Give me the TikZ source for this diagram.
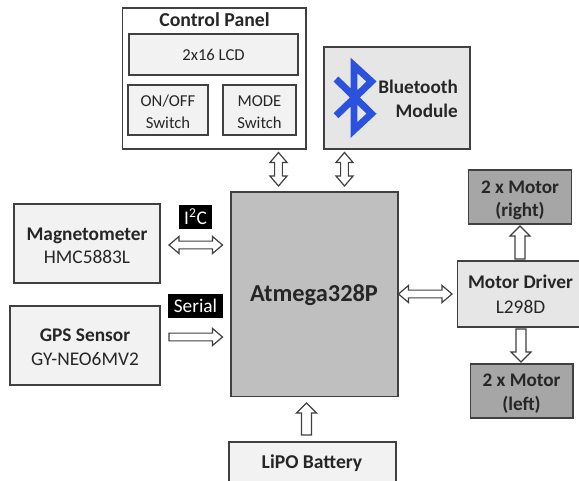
\documentclass[tikz,border=0pt]{standalone}
\usepackage{fontspec}
\setmainfont{Carlito}
\usetikzlibrary{calc}
\definecolor{edge}{HTML}{404040}
\definecolor{txt}{HTML}{262626}
\definecolor{light}{HTML}{F2F2F2}
\definecolor{mid}{HTML}{E6E6E6}
\definecolor{chip}{HTML}{BFBFBF}
\definecolor{motor}{HTML}{A6A6A6}
\definecolor{btblue}{HTML}{2A52DC}
\newcommand{\dropline}[1]{\rule{0pt}{#1}}
\tikzset{
  block/.style={draw=edge,line width=1pt,fill=light,text=txt,align=center,inner sep=0pt,font=\fontsize{14.5pt}{17.5pt}\selectfont},
  small/.style={font=\fontsize{12.5pt}{16.5pt}\selectfont},
  tag/.style={fill=black,text=white,inner sep=0pt,font=\fontsize{14.5pt}{16pt}\selectfont},
  head/.style={font=\fontsize{14.4pt}{17.5pt}\selectfont\bfseries},
  oneway/.style 2 args={draw=edge,fill=white,line width=.9pt,miter limit=10,to path={
    ($(\tikztostart)!#1!90:(\tikztotarget)$)
    -- ($(\tikztotarget)!7.5pt!(\tikztostart)!#1!90:(\tikztotarget)$)
    -- ($(\tikztotarget)!7.5pt!(\tikztostart)!#2!90:(\tikztotarget)$)
    -- (\tikztotarget)
    -- ($(\tikztotarget)!7.5pt!(\tikztostart)!#2!-90:(\tikztotarget)$)
    -- ($(\tikztotarget)!7.5pt!(\tikztostart)!#1!-90:(\tikztotarget)$)
    -- ($(\tikztostart)!#1!-90:(\tikztotarget)$) -- cycle}},
  twoway/.style 2 args={draw=edge,fill=white,line width=.9pt,miter limit=10,to path={
    (\tikztostart)
    -- ($(\tikztostart)!7.5pt!(\tikztotarget)!#2!90:(\tikztotarget)$)
    -- ($(\tikztostart)!7.5pt!(\tikztotarget)!#1!90:(\tikztotarget)$)
    -- ($(\tikztotarget)!7.5pt!(\tikztostart)!#1!90:(\tikztotarget)$)
    -- ($(\tikztotarget)!7.5pt!(\tikztostart)!#2!90:(\tikztotarget)$)
    -- (\tikztotarget)
    -- ($(\tikztotarget)!7.5pt!(\tikztostart)!#2!-90:(\tikztotarget)$)
    -- ($(\tikztotarget)!7.5pt!(\tikztostart)!#1!-90:(\tikztotarget)$)
    -- ($(\tikztostart)!7.5pt!(\tikztotarget)!#1!-90:(\tikztotarget)$)
    -- ($(\tikztostart)!7.5pt!(\tikztotarget)!#2!-90:(\tikztotarget)$)
    -- cycle}},
}
\begin{document}
\begin{tikzpicture}[x=0.75pt,y=-0.75pt]
\useasboundingbox (0,0) rectangle (579,481);
\clip (0,0) rectangle (579,481);
\fill[white] (0,0) rectangle (579,481);
% control panel
\node[block,fill=white,minimum width=137.6pt,minimum height=105.7pt] (panel) at (214.3,78.5) {};
\node[txt,head,font=\fontsize{14.8pt}{17pt}\selectfont\bfseries] (paneltitle) at (214.5,20) {Control Panel};
\node[block,small,minimum width=126.8pt,minimum height=30.8pt] (lcd) at (213.5,54.5) {2x16 LCD};
\node[block,small,minimum width=60pt,minimum height=37.5pt] (onoff) at (168,110) {\dropline{11pt}ON/OFF\\Switch};
\node[block,small,minimum width=54.8pt,minimum height=37.5pt] (mode) at (259.5,110) {\dropline{11pt}MODE\\Switch};
% bluetooth
\node[block,fill=mid,minimum width=109.5pt,minimum height=76.5pt] (bt) at (397,98) {};
\draw[btblue,line width=5.2pt,miter limit=10]
  (336,79) -- (371.5,113.7) -- (354,130) -- (354,65.5) -- (371.5,81.5) -- (336,115.7);
\node[txt,head,align=right,anchor=east] (bttext) at (462.5,99) {Bluetooth\\Module};
% chip
\node[block,fill=chip,minimum width=125.2pt,minimum height=153.4pt] (chipbox) at (314.5,294.3) {};
\node[txt,font=\fontsize{18.3pt}{21pt}\selectfont\bfseries] (chiplabel) at (314,295) {Atmega328P};
% sensors
\node[block,minimum width=109.5pt,minimum height=59.2pt] (mag) at (87,243.5) {\dropline{13pt}{\bfseries Magnetometer}\\HMC5883L};
\node[block,minimum width=112.5pt,minimum height=59.2pt] (gps) at (85,345.5) {\dropline{12pt}{\bfseries GPS Sensor}\\GY-NEO6MV2};
\node[tag,minimum width=24.8pt,minimum height=18pt] (i2c) at (195.5,217) {I\textsuperscript{2}C};
\node[tag,minimum width=41.2pt,minimum height=18pt] (serial) at (195.5,306) {Serial};
% motors
\node[block,fill=motor,head,minimum width=77.6pt,minimum height=40.5pt] (mright) at (520,197) {\dropline{14pt}2 x Motor\\(right)};
\node[block,fill=mid,minimum width=95pt,minimum height=49.5pt] (driver) at (520.5,294) {{\bfseries Motor Driver}\\[1pt]L298D};
\node[block,fill=motor,head,minimum width=77pt,minimum height=40.5pt] (mleft) at (521.5,391) {\dropline{13.5pt}2 x Motor\\(left)};
% battery
\node[block,minimum width=125.2pt,minimum height=60pt] (batt) at (312.5,482) {};
\node[txt,font=\fontsize{14.7pt}{17pt}\selectfont\bfseries] (battlabel) at (312,463) {LiPO Battery};
% connector ends
\coordinate (pa) at (278.5,152.5); \coordinate (pb) at (278.5,186);
\coordinate (ba) at (344.5,152.5); \coordinate (bb) at (344.5,186);
\coordinate (ia) at (169,245); \coordinate (ib) at (222.5,245);
\coordinate (sa) at (169,337); \coordinate (sb) at (222.5,337);
\coordinate (da) at (398.5,294); \coordinate (db) at (452,294);
\coordinate (ra) at (520,259); \coordinate (rb) at (520,226);
\coordinate (la) at (521,329); \coordinate (lb) at (521,362);
\coordinate (ca) at (306.5,435); \coordinate (cb) at (306.5,403);
\draw[twoway={2.9pt}{6.4pt}] (pa) to (pb);
\draw[twoway={2.9pt}{6.4pt}] (ba) to (bb);
\draw[twoway={2.9pt}{6.4pt}] (ia) to (ib);
\draw[oneway={2.9pt}{6.4pt}] (sa) to (sb);
\draw[twoway={2.9pt}{6.4pt}] (da) to (db);
\draw[oneway={3.8pt}{7.5pt}] (ra) to (rb);
\draw[oneway={3.8pt}{7.5pt}] (la) to (lb);
\draw[oneway={3.8pt}{7.5pt}] (ca) to (cb);
\end{tikzpicture}
\end{document}
